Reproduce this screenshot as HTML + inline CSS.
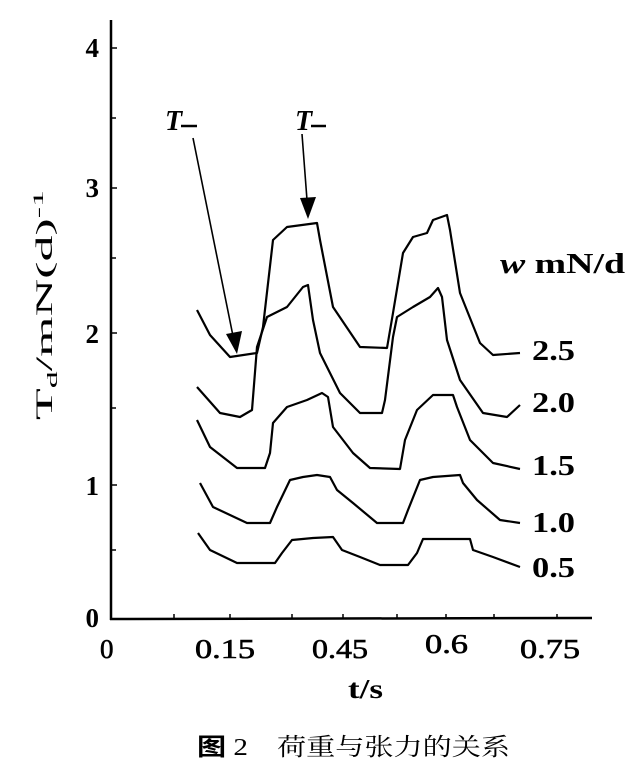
<!DOCTYPE html>
<html><head><meta charset="utf-8"><style>body{margin:0;background:#fff}svg{display:block}</style></head><body>
<svg width="640" height="762" xmlns="http://www.w3.org/2000/svg" font-family="Liberation Serif, serif">
<rect width="640" height="762" fill="#fff"/>
<g stroke="#000" stroke-width="2.5" fill="none">
<line x1="111" y1="20" x2="111" y2="620"/>
<line x1="110" y1="619" x2="592" y2="618"/>
</g>
<g stroke="#000" stroke-width="1.5">
<line x1="111" y1="48" x2="117" y2="48"/><line x1="111" y1="118" x2="116" y2="118"/>
<line x1="111" y1="188" x2="117" y2="188"/><line x1="111" y1="258" x2="116" y2="258"/>
<line x1="111" y1="333" x2="117" y2="333"/><line x1="111" y1="408" x2="116" y2="408"/>
<line x1="111" y1="485" x2="117" y2="485"/><line x1="111" y1="550" x2="116" y2="550"/>
<line x1="174" y1="619" x2="174" y2="614"/><line x1="230" y1="619" x2="230" y2="614"/>
<line x1="292" y1="619" x2="292" y2="614"/><line x1="343" y1="619" x2="343" y2="614"/>
<line x1="397" y1="619" x2="397" y2="614"/><line x1="446" y1="619" x2="446" y2="614"/>
<line x1="494" y1="619" x2="494" y2="614"/><line x1="557" y1="619" x2="557" y2="614"/>
</g>
<g font-size="27" font-weight="bold" text-anchor="end">
<text x="99" y="57">4</text><text x="99" y="197">3</text><text x="99" y="343">2</text><text x="99" y="495">1</text><text x="99" y="627">0</text>
</g>
<g font-size="27" stroke="#000" stroke-width="0.6">
<text x="100" y="658" textLength="17">0</text>
<text x="195" y="658" textLength="60" lengthAdjust="spacingAndGlyphs">0.15</text>
<text x="312" y="658" textLength="56" lengthAdjust="spacingAndGlyphs">0.45</text>
<text x="425" y="653" textLength="43" lengthAdjust="spacingAndGlyphs">0.6</text>
<text x="520" y="658" textLength="60" lengthAdjust="spacingAndGlyphs">0.75</text>
</g>
<text x="348" y="698" font-size="27" font-weight="bold" textLength="35" lengthAdjust="spacingAndGlyphs">t/s</text>
<text x="197" y="755" font-size="24" textLength="313" lengthAdjust="spacingAndGlyphs" font-family="Liberation Serif, Noto Serif CJK SC, serif"><tspan font-weight="bold" font-family="Noto Sans CJK SC, sans-serif">图</tspan> 2　荷重与张力的关系</text>
<text transform="translate(52,305) rotate(-90)" font-size="23" text-anchor="middle" textLength="230" lengthAdjust="spacingAndGlyphs">T<tspan font-size="15" dy="5">d</tspan><tspan dy="-5">/mN(d)</tspan><tspan font-size="15" dy="-9">-1</tspan></text>
<g font-size="28" font-weight="bold">
<text x="500" y="273" textLength="125" lengthAdjust="spacingAndGlyphs"><tspan font-style="italic">w</tspan>  mN/d</text>
<text x="532" y="360" textLength="43" lengthAdjust="spacingAndGlyphs">2.5</text>
<text x="532" y="412" textLength="43" lengthAdjust="spacingAndGlyphs">2.0</text>
<text x="532" y="475" textLength="43" lengthAdjust="spacingAndGlyphs">1.5</text>
<text x="532" y="532" textLength="43" lengthAdjust="spacingAndGlyphs">1.0</text>
<text x="532" y="577" textLength="43" lengthAdjust="spacingAndGlyphs">0.5</text>
</g>
<g font-size="28" font-style="italic" font-weight="bold">
<text x="165" y="130">T</text><text x="295" y="130">T</text>
</g>
<g stroke="#000" stroke-width="2.5"><line x1="181" y1="126" x2="197" y2="126"/><line x1="311" y1="126" x2="326" y2="126"/></g>
<g stroke="#000" stroke-width="1.6" fill="none">
<line x1="193" y1="138" x2="233" y2="336"/><line x1="302" y1="134" x2="307" y2="200"/>
</g>
<polygon points="226,334 242,331 237,354" fill="#000"/>
<polygon points="300,198 316,197 308,219" fill="#000"/>
<g stroke="#000" stroke-width="2.2" fill="none" stroke-linejoin="round">
<polyline points="197,310 210,335 230,357 257,353 263,327 273,240 287,227 317,223 320,240 333,307 360,347 387,348 393,313 403,253 413,237 427,233 433,220 447,215 450,230 460,293 480,343 493,355 520,353"/>
<polyline points="197,387 220,413 240,417 252,410 257,347 267,317 287,307 303,287 308,285 313,320 320,353 340,393 360,413 382,413 385,400 393,337 397,317 413,307 430,297 438,288 442,297 447,340 460,380 483,413 507,417 520,405"/>
<polyline points="197,420 210,447 237,468 265,468 270,453 273,423 287,407 307,400 322,393 328,397 333,427 353,453 370,468 400,469 405,440 417,410 433,395 453,395 457,407 470,440 493,463 520,469"/>
<polyline points="200,483 213,507 247,523 270,523 277,507 290,480 303,477 317,475 330,477 337,490 353,503 377,523 403,523 408,510 420,480 433,477 460,475 463,483 477,500 500,520 520,523"/>
<polyline points="198,533 210,550 237,563 275,563 282,553 292,540 313,538 333,537 342,550 360,557 380,565 408,565 417,553 423,539 470,539 473,550 493,557 520,567"/>
</g>
</svg>
</body></html>
